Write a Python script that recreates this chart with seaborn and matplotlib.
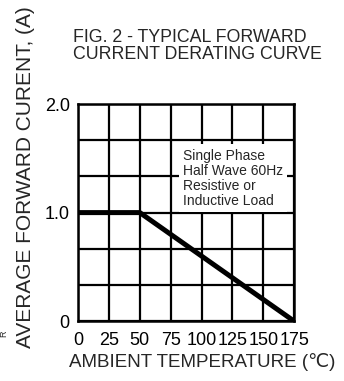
import numpy as np
import pandas as pd
import seaborn as sns
import matplotlib.pyplot as plt

# derating curve points
temp = [0, 50, 175]
current = [1.0, 1.0, 0.0]
xticks = [0, 25, 50, 75, 100, 125, 150, 175]
yticks = [0, 1.0, 2.0]
ytick_labels = ['0', '1.0', '2.0']
ygrid = [0, 1/3, 2/3, 1.0, 4/3, 5/3, 2.0]

sns.set_style('white')
plt.rcParams['font.family'] = ['Liberation Sans Narrow', 'Liberation Sans', 'DejaVu Sans']

df = pd.DataFrame({'temp': temp, 'current': current})

fig = plt.figure(figsize=(3.44, 3.81), dpi=100)
ax = fig.add_axes([0.227, 0.157, 0.628, 0.570])

sns.lineplot(data=df, x='temp', y='current', color='black', linewidth=3.6,
             ax=ax, zorder=3, solid_capstyle='butt')

ax.set_xlim(0, 175)
ax.set_ylim(0, 2.0)
ax.set_xticks(xticks)
ax.set_yticks(yticks)
ax.set_yticks(ygrid, minor=True)
ax.set_yticklabels(ytick_labels)
ax.grid(True, which='both', color='black', linewidth=1.6)
ax.tick_params(which='both', length=0, labelsize=13, colors='black')
ax.tick_params(axis='x', pad=8)
ax.tick_params(axis='y', pad=6)
for s in ax.spines.values():
    s.set_color('black')
    s.set_linewidth(1.8)
ax.set_xlabel('')
ax.set_ylabel('')

ax.text(0.485, 0.795, 'Single Phase\nHalf Wave 60Hz\nResistive or\nInductive Load',
        transform=ax.transAxes, fontsize=10, va='top', ha='left', linespacing=1.1,
        zorder=4, bbox=dict(facecolor='white', edgecolor='none', pad=3))

fig.text(0.212, 0.925, 'FIG. 2 - TYPICAL FORWARD\nCURRENT DERATING CURVE',
         fontsize=12.8, ha='left', va='top', linespacing=1.0)
fig.text(0.073, 0.535, 'AVERAGE FORWARD CURENT, (A)', rotation=90,
         fontsize=15, ha='center', va='center')
fig.text(0.587, 0.05, 'AMBIENT TEMPERATURE (℃)', fontsize=13.5,
         ha='center', va='center')
fig.text(0.012, 0.125, 'R', rotation=90, fontsize=6.5, ha='center', va='center')

fig.savefig('out.png', dpi=100)
